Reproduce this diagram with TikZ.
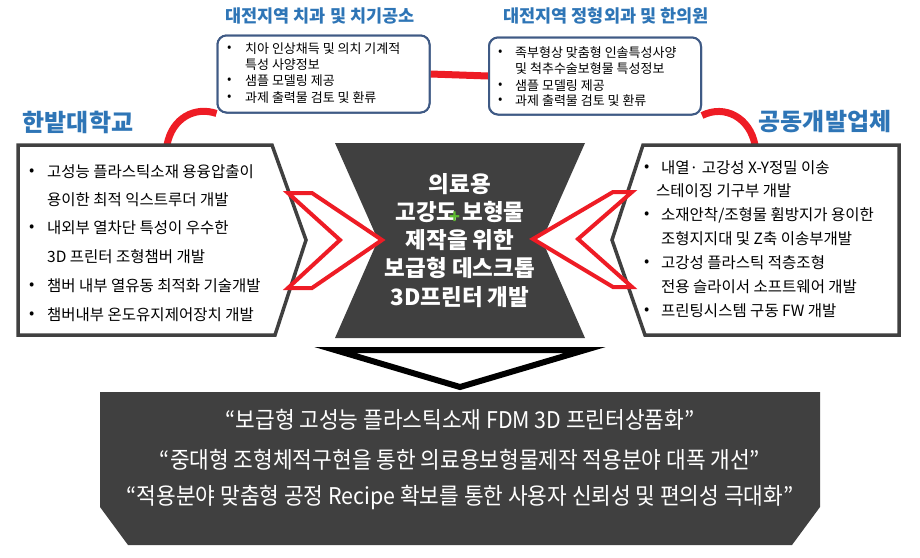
\documentclass[tikz,border=0pt]{standalone}
\usepackage{fontspec}
\setmainfont{Noto Sans CJK KR}
\usepackage{graphicx}
\definecolor{dk}{HTML}{404040}
\definecolor{ttl}{HTML}{2E75B6}
\definecolor{bb}{HTML}{3F5A85}
\definecolor{rd}{HTML}{EE1C25}
\definecolor{gr}{HTML}{5DBB2E}
\tikzset{
 redline/.style={draw=rd,line width=7pt},
 chev/.style={draw=rd,line width=4pt,fill=white,line join=miter},
 sidebox/.style={draw=dk,line width=3.5pt,fill=white,line join=miter},
 topbox/.style={draw=bb,line width=2pt,fill=white,rounded corners=9pt,minimum width=212pt,minimum height=77pt},
 ttlA/.style={text=ttl,font=\fontsize{17.5}{20}\selectfont\bfseries},
 ttlB/.style={text=ttl,font=\fontsize{24}{28}\selectfont\bfseries},
 sm/.style={anchor=west,font=\fontsize{13}{14}\selectfont,inner sep=0pt},
 md/.style={anchor=west,font=\fontsize{15.5}{17}\selectfont,inner sep=0pt},
 ctr/.style={text=white,font=\fontsize{22.5}{25}\selectfont\bfseries,inner sep=0pt},
 bt/.style={text=white,font=\fontsize{23}{25}\selectfont,inner sep=0pt},
}
\begin{document}
\begin{tikzpicture}[x=1pt,y=-1pt]
\useasboundingbox (0,0) rectangle (920,557);
% connectors
\node[topbox] (tl) at (323.5,74) {};
\node[topbox] (tr) at (595,76) {};
\draw[redline] (tl.east) -- (tr.west);
\coordinate (la) at (167,145);
\coordinate (ra) at (755,145);
\draw[redline] (la) .. controls (172,118) and (195,106) .. (tl.south west);
\draw[redline] (ra) .. controls (750,118) and (725,104) .. (tr.south east);
\node[topbox] at (323.5,74) {};
\node[topbox] at (595,76) {};
% titles
\node[ttlA] (t1) at (320,16) {대전지역 치과 및 치기공소};
\node[ttlA] (t2) at (606,16) {대전지역 정형외과 및 한의원};
\node[ttlB] (t3) at (78,122) {한밭대학교};
\node[ttlB] (t4) at (825,122) {공동개발업체};
% top box texts
\node[sm] at (227,49) {•};
\node[sm] at (245,49) {치아 인상채득 및 의치 기계적};
\node[sm] at (245,65) {특성 사양정보};
\node[sm] at (227,81) {•};
\node[sm] at (245,81) {샘플 모델링 제공};
\node[sm] at (227,98) {•};
\node[sm] at (245,98) {과제 출력물 검토 및 환류};
\node[sm] at (498,53) {•};
\node[sm] at (515,53) {족부형상 맞춤형 인솔특성사양};
\node[sm] at (515,69) {및 척추수술보형물 특성정보};
\node[sm] at (498,86) {•};
\node[sm] at (515,86) {샘플 모델링 제공};
\node[sm] at (498,101) {•};
\node[sm] at (515,101) {과제 출력물 검토 및 환류};
% side boxes
\draw[sidebox] (18,145) -- (272,145) -- (306,240) -- (275,335) -- (18,335) -- cycle;
\draw[sidebox] (643,145) -- (899,145) -- (899,335) -- (645,335) -- (612,240) -- cycle;
% center
\fill[dk] (335,143) -- (585,143) -- (542,240) -- (585,338) -- (335,338) -- (378,240) -- cycle;
\draw[line width=6pt,line join=miter] (335,350) -- (585,350) -- (460,387) -- cycle;
\fill[dk] (100,392) -- (820,392) -- (820,507) -- (792,545) -- (128,545) -- (100,507) -- cycle;
% chevrons
\draw[chev] (288,193) -- (312,193) -- (382,240) -- (312,288) -- (288,288) -- (340,240) -- cycle;
\draw[chev] (632,192) -- (613,192) -- (533,239) -- (613,287) -- (632,287) -- (578,239) -- cycle;
% left box text
\node[md] at (29,172) {•}; \node[md] at (47,172) {고성능 플라스틱소재 용융압출이};
\node[md] at (47,200) {용이한 최적 익스트루더 개발};
\node[md] at (29,228) {•}; \node[md] at (47,228) {내외부 열차단 특성이 우수한};
\node[md] at (47,257) {3D 프린터 조형챔버 개발};
\node[md] at (29,286) {•}; \node[md] at (47,286) {챔버 내부 열유동 최적화 기술개발};
\node[md] at (29,315) {•}; \node[md] at (47,315) {챔버내부 온도유지제어장치 개발};
% right box text
\node[md] at (644,168) {•}; \node[md] at (661,168) {내열· 고강성 X-Y정밀 이송};
\node[md] at (656,191) {스테이징 기구부 개발};
\node[md] at (644,215) {•}; \node[md] at (661,215) {소재안착/조형물 휨방지가 용이한};
\node[md] at (661,239) {조형지지대 및 Z축 이송부개발};
\node[md] at (644,263) {•}; \node[md] at (661,263) {고강성 플라스틱 적층조형};
\node[md] at (661,287) {전용 슬라이서 소프트웨어 개발};
\node[md] at (644,311) {•}; \node[md] at (661,311) {프린팅시스템 구동 FW 개발};
% center text
\node[ctr] (c1) at (460,184) {의료용};
\node[ctr] (c2) at (460,212) {고강도 보형물};
\node[ctr] (c3) at (460,240) {제작을 위한};
\node[ctr] (c4) at (460,268) {보급형 데스크톱};
\node[ctr] (c5) at (460,297) {3D프린터 개발};
\node[text=gr,font=\fontsize{18}{18}\selectfont\bfseries,inner sep=0pt] (pl) at (455,218) {+};
% bottom text
\node[bt] (b1) at (460,420) {\scalebox{0.93}[1]{“보급형 고성능 플라스틱소재 FDM 3D 프린터상품화”}};
\node[bt] (b2) at (460,460) {\scalebox{0.93}[1]{“중대형 조형체적구현을 통한 의료용보형물제작 적용분야 대폭 개선”}};
\node[bt] (b3) at (460,498) {\scalebox{0.93}[1]{“적용분야 맞춤형 공정 Recipe 확보를 통한 사용자 신뢰성 및 편의성 극대화”}};
\end{tikzpicture}
\end{document}
